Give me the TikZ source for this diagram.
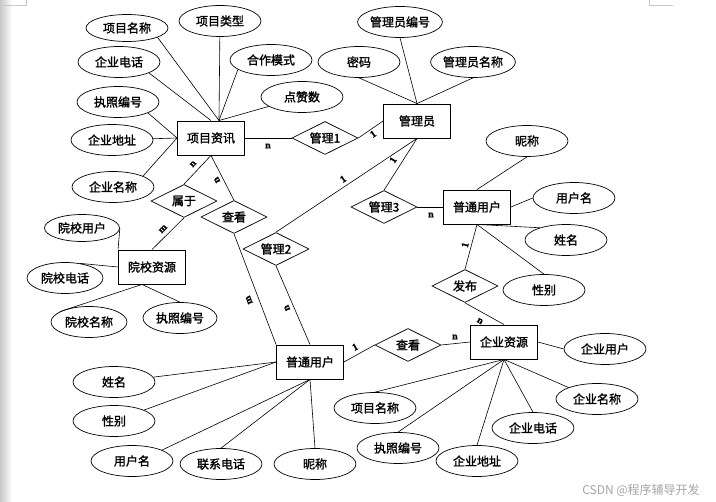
\documentclass[tikz,border=0pt]{standalone}
\usepackage{fontspec}
\setmainfont{Noto Sans CJK SC}
\newfontfamily\erfont{Noto Sans CJK SC}[FakeBold=1.6]
\newfontfamily\cardfont{Liberation Serif}[FakeBold=1.2]
\usetikzlibrary{shapes.geometric,calc}
\definecolor{markgray}{RGB}{200,200,200}
\definecolor{wmgray}{RGB}{165,165,165}

\begin{document}
\begin{tikzpicture}[x=1pt,y=-1pt,
    attr/.style={draw, ellipse, line width=0.7pt, minimum width=82pt, minimum height=31pt,
        inner sep=0pt, font=\erfont\fontsize{12}{14}\selectfont},
    ent/.style={draw, rectangle, line width=0.9pt, minimum width=67pt, minimum height=34pt,
        inner sep=0pt, font=\erfont\fontsize{12}{14}\selectfont},
    rel/.style={draw, diamond, aspect=2, line width=0.7pt, minimum width=66pt, minimum height=33pt,
        inner sep=0pt, font=\erfont\fontsize{12}{14}\selectfont},
    card/.style={inner sep=0pt, font=\cardfont\bfseries\fontsize{10}{11}\selectfont},
    link/.style={line width=0.6pt}]

    % Page and margins
    \useasboundingbox (0,0) rectangle (716,502);
    \fill[white] (0,0) rectangle (716,502);
    \shade[left color=markgray, right color=white] (0,0) rectangle (12,502);
    \draw[markgray, line width=0.6pt] (0,5) -- (26,5) -- (26,0);
    \draw[markgray, line width=0.6pt] (649,0) -- (649,5) -- (673,5);

    % Entities
    \node[ent] (xmzx) at (211,138) {项目资讯};
    \node[ent] (gly) at (417,121) {管理员};
    \node[ent] (ptyhA) at (477,207) {普通用户};
    \node[ent] (yxzy) at (152,267) {院校资源};
    \node[ent] (ptyhB) at (310,362) {普通用户};
    \node[ent] (qyzy) at (504,342) {企业资源};

    % Relations
    \node[rel] (gl1) at (325,138) {管理1};
    \node[rel] (sy) at (184,201) {属于};
    \node[rel] (ckA) at (234,217) {查看};
    \node[rel] (gl2) at (276,249) {管理2};
    \node[rel] (gl3) at (384,207) {管理3};
    \node[rel] (fb) at (465,286) {发布};
    \node[rel] (ckB) at (408,345) {查看};

    % Attributes of 项目资讯
    \node[attr, minimum height=27pt] (xmmc) at (127,28) {项目名称};
    \node[attr] (xmlx) at (220,21) {项目类型};
    \node[attr] (hzms) at (271,60) {合作模式};
    \node[attr] (qydh) at (119,62) {企业电话};
    \node[attr] (dzs) at (302,97) {点赞数};
    \node[attr] (zzbh) at (118,102) {执照编号};
    \node[attr] (qydz) at (112,140) {企业地址};
    \node[attr] (qymc) at (113,187) {企业名称};

    % Attributes of 管理员
    \node[attr] (mm) at (359,62) {密码};
    \node[attr] (glybh) at (400,22) {管理员编号};
    \node[attr] (glymc) at (473,62) {管理员名称};

    % Attributes of 普通用户 (right)
    \node[attr] (ncA) at (527,141) {昵称};
    \node[attr] (yhmA) at (574,198) {用户名};
    \node[attr] (xmA) at (566,240) {姓名};
    \node[attr] (xbA) at (544,290) {性别};

    % Attributes of 院校资源
    \node[attr, minimum width=75pt, minimum height=27pt] (yxyh) at (82,228) {院校用户};
    \node[attr, minimum width=76pt] (yxdh) at (65,278) {院校电话};
    \node[attr, minimum width=76pt] (yxmc) at (89,322) {院校名称};
    \node[attr, minimum width=74pt] (zzbhB) at (180,318) {执照编号};

    % Attributes of 普通用户 (bottom)
    \node[attr] (xmB) at (114,382) {姓名};
    \node[attr] (xbB) at (114,421) {性别};
    \node[attr] (yhmB) at (132,461) {用户名};
    \node[attr] (lxdh) at (221,464) {联系电话};
    \node[attr] (ncB) at (315,464) {昵称};

    % Attributes of 企业资源
    \node[attr] (qyyh) at (605,349) {企业用户};
    \node[attr] (qymcB) at (597,399) {企业名称};
    \node[attr] (qydhB) at (533,428) {企业电话};
    \node[attr] (qydzB) at (477,461) {企业地址};
    \node[attr] (zzbhC) at (398,448) {执照编号};
    \node[attr] (xmmcB) at (375,408) {项目名称};

    % Attribute links
    \coordinate (xmtop) at ($(xmzx.north)+(8,0)$);
    \draw[link] (xmmc.-17) -- (xmtop);
    \draw[link] (xmlx) -- (xmtop);
    \draw[link] (hzms.196) -- (xmtop);
    \draw[link] (dzs) -- (xmtop);
    \draw[link] (qydh.-20) -- (xmzx.north);
    \draw[link] (zzbh.-20) -- (xmzx.west);
    \draw[link] (qydz) -- (xmzx.west);
    \draw[link] (qymc.20) -- (xmzx.west);

    \foreach \a in {mm,glybh,glymc}
        \draw[link] (\a.south) -- (gly.north);

    \draw[link] (ncA.south) -- (ptyhA.north);
    \draw[link] (yhmA.west) -- (ptyhA.east);
    \draw[link] (xmA.155) -- (ptyhA.south);
    \draw[link] (xbA.north) -- (ptyhA.south);

    \coordinate (yxbot) at ($(yxzy.south)+(-10,0)$);
    \draw[link] (yxyh.east) -- (yxzy.north west);
    \draw[link] (yxdh.45) -- (yxzy.west);
    \draw[link] (yxmc.160) -- (yxbot);
    \draw[link] (zzbhB.north) -- (yxbot);

    \draw[link] (xmB) -- (ptyhB.west);
    \draw[link] (xbB) -- (ptyhB.west);
    \draw[link] (yhmB.20) -- (ptyhB.south);
    \draw[link] (lxdh.north) -- (ptyhB.south);
    \draw[link] (ncB.north) -- (ptyhB.south);

    \draw[link] (qyyh.west) -- (qyzy.east);
    \draw[link] (qymcB.158) -- (qyzy.south);
    \foreach \a in {qydhB,qydzB,zzbhC,xmmcB}
        \draw[link] (\a.north) -- (qyzy.south);

    % Relation links
    \draw[link] (xmzx.east) -- (gl1.west);
    \draw[link] (gl1.east) -- (gly.west);
    \draw[link] (xmzx.south) -- (sy.north);
    \draw[link] (sy.south) -- (yxzy.north);
    \draw[link] (xmzx.south) -- (ckA.north);
    \draw[link] (ckA.south) -- (ptyhB.north west);
    \draw[link] (gly.south) -- (gl2.north);
    \draw[link] (gl2.south) -- (ptyhB.north);
    \draw[link] (gly.south) -- (gl3.north);
    \draw[link] (gl3.east) -- (ptyhA.west);
    \draw[link] (ptyhA.south) -- (fb.north);
    \draw[link] (fb.south) -- (qyzy.north);
    \draw[link] (ptyhB.east) -- (ckB.west);
    \draw[link] (ckB.east) -- (qyzy.west);

    % Cardinalities
    \node[card] (c1) at (268,146) {n};
    \node[card, rotate=34] (c2) at (373,134) {1};
    \node[card, rotate=47] (c3) at (193,164) {n};
    \node[card, rotate=117] (c4) at (217,180) {n};
    \node[card, rotate=46] (c5) at (163,229) {m};
    \node[card, rotate=34] (c6) at (343,179) {1};
    \node[card, rotate=57] (c7) at (393,160) {1};
    \node[card] (c8) at (431,215) {n};
    \node[card, rotate=76] (c9) at (465,245) {1};
    \node[card, rotate=111] (c10) at (249,300) {m};
    \node[card, rotate=113] (c11) at (287,308) {n};
    \node[card, rotate=-29] (c12) at (480,321) {n};
    \node[card] (c13) at (455,337) {n};
    \node[card, rotate=28] (c14) at (355,347) {1};

    % Watermark
    \node[text=wmgray, font=\fontsize{12}{14}\selectfont] (wm) at (641,490) {CSDN @程序辅导开发};
\end{tikzpicture}
\end{document}
